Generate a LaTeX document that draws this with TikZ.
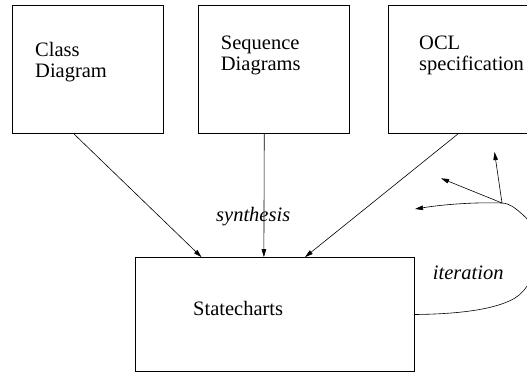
\documentclass[tikz,border=0pt]{standalone}
\usepackage{fontspec}
\setmainfont{Liberation Serif}
\usetikzlibrary{arrows.meta,calc}
\begin{document}
\begin{tikzpicture}[x=1pt,y=-1pt,
  lbl/.style={font=\fontsize{20.5}{21}\selectfont, inner sep=0pt, anchor=base west, align=left},
  emph/.style={lbl, font=\fontsize{20.5}{21}\selectfont\itshape},
  box/.style={draw, line width=0.7pt, minimum width=151pt, minimum height=128.5pt, inner sep=0pt},
  flow/.style={line width=0.6pt, -{Triangle[length=8pt,width=4.5pt]}},
]
\useasboundingbox (0,0) rectangle (527,373);
\clip (0,0) rectangle (527,373);

% source models (two-line labels are placed by the baseline of their last line)
\node[box] (cd)  at (87.5,69.25)  {};
\node[box] (sd)  at (273.5,69.25) {};
\node[box] (ocl) at (463.5,69.25) {};
\node[lbl] (cdt)  at (35,77.7)    {Class\\Diagram};
\node[lbl] (sdt)  at (220.7,70.3) {Sequence\\Diagrams};
\node[lbl] (oclt) at (419,70.3)   {OCL\\specification};

% target model
\node[draw, line width=0.7pt, minimum width=279pt, minimum height=114pt, inner sep=0pt] (sc) at (274.5,314.5) {};
\node[lbl] (sct) at (193,315) {Statecharts};

% synthesis arrows
\draw[flow] ($(cd.south west)!0.41!(cd.south east)$)   -- ($(sc.north west)!0.239!(sc.north east)$);
\draw[flow] ($(sd.south west)!0.439!(sd.south east)$)  -- ($(sc.north west)!0.462!(sc.north east)$);
\draw[flow] ($(ocl.south west)!0.464!(ocl.south east)$) -- ($(sc.north west)!0.609!(sc.north east)$);
\node[emph] (syn) at (216,221.7) {synthesis};

% iteration loop
\coordinate (jn)  at (502,203);
\coordinate (itl) at (415,209);
\coordinate (ita) at (441,178.3);
\coordinate (itu) at (494.5,152);
\draw[flow] (sc.east) .. controls (470,314) and (500,307) .. (515,298)
  .. controls (540,283) and (545,232) .. (522,214)
  .. controls (515,208) and (510,203.5) .. (jn)
  .. controls (470,202) and (440,205) .. (itl);
\draw[flow] (jn) -- (ita);
\draw[flow] (jn) -- (itu);
\node[emph] (itr) at (432.7,279) {iteration};
\end{tikzpicture}
\end{document}
